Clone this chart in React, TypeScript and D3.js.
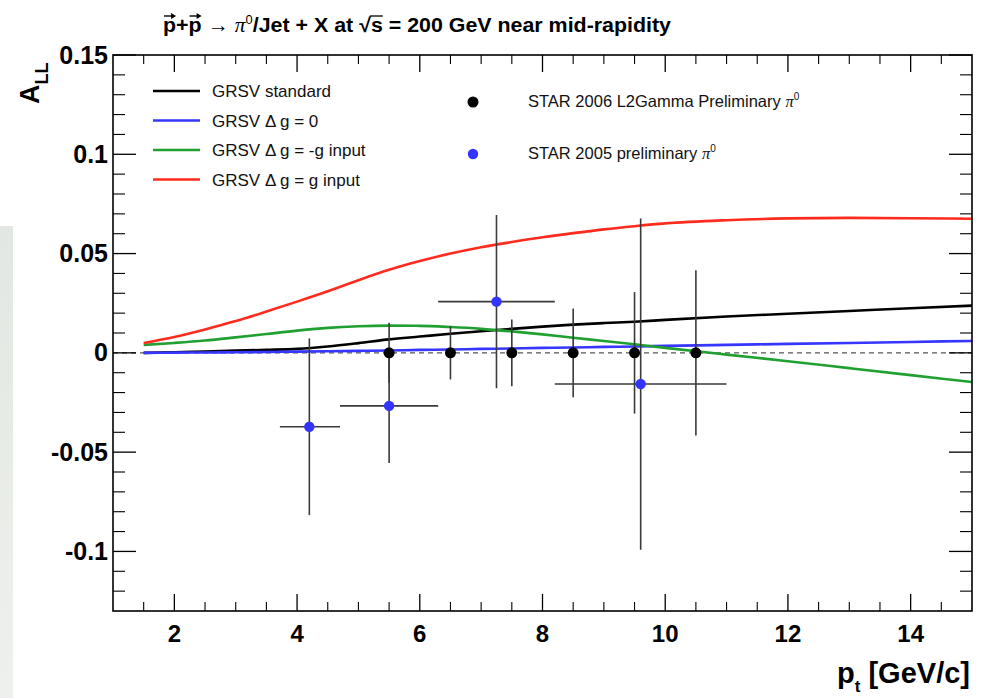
import React, { useLayoutEffect, useRef, useState } from "react";
import * as d3 from "d3";

// ---- Theory curves (GRSV) ----
const curveX = [1.5, 2, 2.5, 3, 3.5, 4, 4.5, 5, 5.5, 6, 6.5, 7, 7.5, 8, 8.5, 9, 9.5, 10, 11, 12, 13, 14, 15];
const grsvStandard = [0, 0.0003, 0.0007, 0.0011, 0.0015, 0.002, 0.0032, 0.0049, 0.0068, 0.0082, 0.0096, 0.0109, 0.0121, 0.0132, 0.0142, 0.015, 0.0157, 0.0166, 0.0183, 0.0197, 0.0211, 0.0225, 0.0238];
const grsvZero = [0, 0.0001, 0.0002, 0.0003, 0.0004, 0.0006, 0.0008, 0.001, 0.0012, 0.0015, 0.0017, 0.002, 0.0022, 0.0025, 0.0027, 0.003, 0.0032, 0.0035, 0.004, 0.0045, 0.005, 0.0055, 0.006];
const grsvMinusG = [0.004, 0.005, 0.0062, 0.0078, 0.0095, 0.0112, 0.0126, 0.0134, 0.0137, 0.0136, 0.013, 0.0121, 0.0108, 0.0093, 0.0076, 0.006, 0.0043, 0.0025, -0.0009, -0.0042, -0.0077, -0.0112, -0.0147];
const grsvG = [0.005, 0.008, 0.0118, 0.016, 0.0208, 0.0258, 0.031, 0.0366, 0.0418, 0.0462, 0.05, 0.0532, 0.0558, 0.0582, 0.0603, 0.0622, 0.0638, 0.0652, 0.0668, 0.0677, 0.068, 0.0678, 0.0675];

// ---- Data points ----
const star2006X = [5.5, 6.5, 7.5, 8.5, 9.5, 10.5];
const star2006Y = [0, 0, 0, 0, 0, 0];
const star2006Err = [0.0151, 0.0134, 0.0168, 0.0223, 0.0306, 0.0416];

const star2005X = [4.2, 5.5, 7.25, 9.6];
const star2005Y = [-0.0372, -0.0267, 0.0258, -0.0157];
const star2005Err = [0.0445, 0.0288, 0.0436, 0.0834];
const star2005XLo = [3.72, 4.7, 6.3, 8.2];
const star2005XHi = [4.7, 6.3, 8.2, 11.0];

// ---- Axes ----
const xTicks = [2, 4, 6, 8, 10, 12, 14];
const xTickLabels = ["2", "4", "6", "8", "10", "12", "14"];
const yTicks = [-0.1, -0.05, 0, 0.05, 0.1, 0.15];
const yTickLabels = ["-0.1", "-0.05", "0", "0.05", "0.1", "0.15"];

const legendLabels = ["GRSV standard", "GRSV \u0394 g = 0", "GRSV \u0394 g = -g input", "GRSV \u0394 g = g input"];
const legendColors = ["#000000", "#3636ff", "#21a032", "#ff2b1e"];

const FONT = "'Liberation Sans', Arial, Helvetica, sans-serif";

export default function App() {
  const W = 988, H = 698;
  const L = 113, R = 972, T = 55, B = 611;
  const x = d3.scaleLinear().domain([1, 15]).range([L, R]);
  const y = d3.scaleLinear().domain([-0.13, 0.15]).range([B, T]);

  const series = [grsvStandard, grsvZero, grsvMinusG, grsvG];
  const line = d3
    .line<number>()
    .x((_, i) => x(curveX[i]))
    .y((d) => y(d))
    .curve(d3.curveMonotoneX);

  const xMinor = d3.range(1.5, 15, 0.5).filter((v) => Math.abs(v % 2) > 1e-6);
  const yMinor = d3.range(-12, 15, 1).map((v) => v / 100).filter((v) => Math.abs(Math.round(v * 100) % 5) !== 0);

  const titleRef = useRef<SVGTextElement>(null);
  const [marks, setMarks] = useState<any>(null);
  useLayoutEffect(() => {
    const t = titleRef.current;
    if (!t) return;
    try {
      const p1 = t.getExtentOfChar(0);
      const p2 = t.getExtentOfChar(2);
      const sq = t.getExtentOfChar(20);
      const s = t.getExtentOfChar(21);
      setMarks({ p1, p2, sq, s });
    } catch (e) {}
  }, []);

  const arrow = (b: any, key: string) => {
    const yA = b.y + 2;
    const x0 = b.x + 1, x1 = b.x + b.width - 1;
    return (
      <g key={key} stroke="#000" fill="#000" strokeWidth={1.4}>
        <line x1={x0} y1={yA} x2={x1 - 1} y2={yA} />
        <path d={`M${x1 + 1},${yA} L${x1 - 4},${yA - 3} L${x1 - 4},${yA + 3} Z`} stroke="none" />
      </g>
    );
  };

  return (
    <svg width={W} height={H} style={{ position: "absolute", left: 0, top: 0, background: "#fff" }} fontFamily={FONT}>
      <defs>
        <linearGradient id="bgL" x1="0" y1="0" x2="0" y2="1">
          <stop offset="0" stopColor="#e3e7e3" />
          <stop offset="0.5" stopColor="#e8ece6" />
          <stop offset="1" stopColor="#eef0ee" />
        </linearGradient>
      </defs>
      <rect x={0} y={0} width={W} height={H} fill="#fff" />
      <rect x={0} y={226} width={13} height={H - 226} fill="url(#bgL)" />

      {/* Title */}
      <text ref={titleRef} x={163} y={32} fontSize={20} fontWeight="bold" fill="#000" textLength={508} lengthAdjust="spacingAndGlyphs">
        <tspan>p+p {"\u2192"} </tspan>
        <tspan fontFamily="'Liberation Serif', serif" fontStyle="italic" fontWeight="normal">{"\u03c0"}</tspan>
        <tspan fontSize={12} dy={-8} fontWeight="normal">0</tspan>
        <tspan dy={8}>/Jet + X at {"\u221a"}s = 200 GeV near mid-rapidity</tspan>
      </text>
      {marks && (
        <g>
          {arrow(marks.p1, "a1")}
          {arrow(marks.p2, "a2")}
          <line
            x1={marks.sq.x + marks.sq.width - 1}
            y1={marks.sq.y + 2}
            x2={marks.s.x + marks.s.width}
            y2={marks.sq.y + 2}
            stroke="#000"
            strokeWidth={1.3}
          />
        </g>
      )}

      {/* zero line */}
      <line x1={x(1)} x2={x(15)} y1={y(0)} y2={y(0)} stroke="#555" strokeWidth={1.3} strokeDasharray="5,4" />

      {/* curves */}
      {series.map((s, i) => (
        <path key={i} d={line(s) || ""} fill="none" stroke={legendColors[i]} strokeWidth={2.6} />
      ))}

      {/* STAR 2005 error bars */}
      {star2005X.map((v, i) => (
        <g key={"e5" + i} stroke="#3a3a3a" strokeWidth={1.6}>
          <line x1={x(star2005XLo[i])} x2={x(star2005XHi[i])} y1={y(star2005Y[i])} y2={y(star2005Y[i])} />
          <line x1={x(v)} x2={x(v)} y1={y(star2005Y[i] + star2005Err[i])} y2={y(star2005Y[i] - star2005Err[i])} />
        </g>
      ))}
      {/* STAR 2006 error bars */}
      {star2006X.map((v, i) => (
        <line key={"e6" + i} x1={x(v)} x2={x(v)} y1={y(star2006Y[i] + star2006Err[i])} y2={y(star2006Y[i] - star2006Err[i])} stroke="#3a3a3a" strokeWidth={1.6} />
      ))}
      {star2006X.map((v, i) => (
        <circle key={"p6" + i} cx={x(v)} cy={y(star2006Y[i])} r={5.5} fill="#000" />
      ))}
      {star2005X.map((v, i) => (
        <circle key={"p5" + i} cx={x(v)} cy={y(star2005Y[i])} r={5.2} fill="#3434ff" />
      ))}

      {/* frame */}
      <rect x={L} y={T} width={R - L} height={B - T} fill="none" stroke="#000" strokeWidth={1.6} />

      {/* x ticks */}
      {xTicks.map((v, i) => (
        <g key={"xt" + i}>
          <line x1={x(v)} x2={x(v)} y1={B} y2={B - 17} stroke="#000" strokeWidth={1.3} />
          <line x1={x(v)} x2={x(v)} y1={T} y2={T + 17} stroke="#000" strokeWidth={1.3} />
          <text x={x(v)} y={642} textAnchor="middle" fontSize={24} fontWeight="bold">{xTickLabels[i]}</text>
        </g>
      ))}
      {xMinor.map((v, i) => (
        <g key={"xm" + i} stroke="#000" strokeWidth={1.1}>
          <line x1={x(v)} x2={x(v)} y1={B} y2={B - 9} />
          <line x1={x(v)} x2={x(v)} y1={T} y2={T + 9} />
        </g>
      ))}
      {/* y ticks */}
      {yTicks.map((v, i) => (
        <g key={"yt" + i}>
          <line x1={L} x2={L + 23} y1={y(v)} y2={y(v)} stroke="#000" strokeWidth={1.3} />
          <line x1={R} x2={R - 23} y1={y(v)} y2={y(v)} stroke="#000" strokeWidth={1.3} />
          <text x={108} y={y(v) + 8.5} textAnchor="end" fontSize={25} fontWeight="bold">{yTickLabels[i]}</text>
        </g>
      ))}
      {yMinor.map((v, i) => (
        <g key={"ym" + i} stroke="#000" strokeWidth={1.1}>
          <line x1={L} x2={L + 12} y1={y(v)} y2={y(v)} />
          <line x1={R} x2={R - 12} y1={y(v)} y2={y(v)} />
        </g>
      ))}

      {/* axis titles */}
      <text transform="translate(39,104) rotate(-90)" fontWeight="bold" fontSize={27}>
        A<tspan fontSize={18} dy={9}>LL</tspan>
      </text>
      <text x={970} y={683} textAnchor="end" fontWeight="bold" fontSize={29}>
        p<tspan fontSize={17} dy={9}>t</tspan>
        <tspan dy={-9}> [GeV/c]</tspan>
      </text>

      {/* legend 1 */}
      {legendLabels.map((lab, i) => {
        const ly = 91 + i * 29.5;
        return (
          <g key={"lg" + i}>
            <line x1={153} x2={200} y1={ly} y2={ly} stroke={legendColors[i]} strokeWidth={2.6} />
            <text x={212} y={ly + 6} fontSize={17} fill="#111">{lab}</text>
          </g>
        );
      })}

      {/* legend 2 */}
      <circle cx={473} cy={102} r={5.5} fill="#000" />
      <text x={528} y={107} fontSize={16.5} fill="#111">
        STAR 2006 L2Gamma Preliminary <tspan fontFamily="'Liberation Serif', serif" fontStyle="italic">{"\u03c0"}</tspan>
        <tspan fontSize={10} dy={-7}>0</tspan>
      </text>
      <circle cx={473} cy={154} r={5.2} fill="#3434ff" />
      <text x={528} y={159} fontSize={16.5} fill="#111">
        STAR 2005 preliminary <tspan fontFamily="'Liberation Serif', serif" fontStyle="italic">{"\u03c0"}</tspan>
        <tspan fontSize={10} dy={-7}>0</tspan>
      </text>
    </svg>
  );
}
